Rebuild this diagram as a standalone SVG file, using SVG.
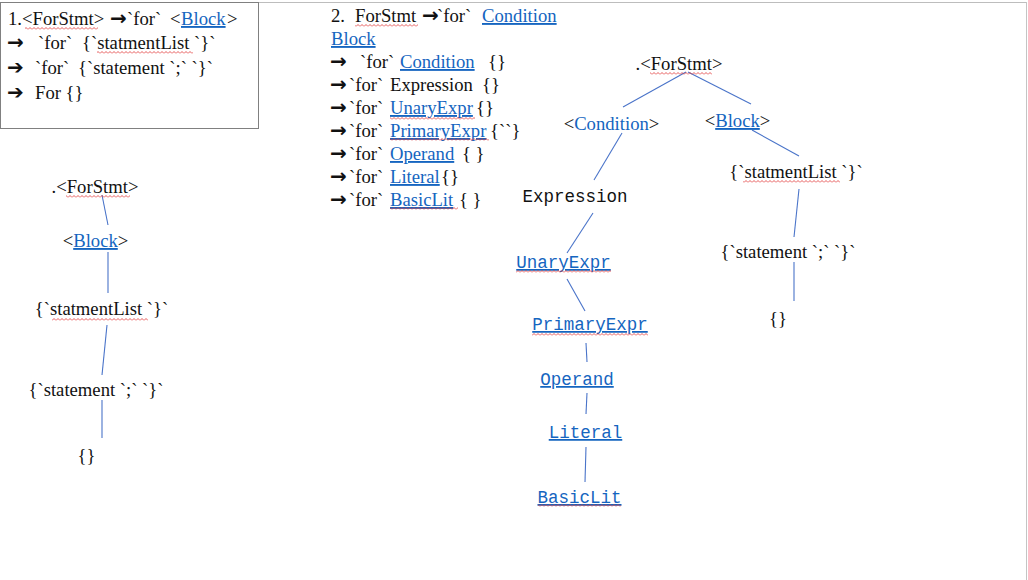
<svg xmlns="http://www.w3.org/2000/svg" width="1028" height="580" viewBox="0 0 1028 580">
<defs>
<style>
.t{font-family:"Liberation Serif","Times New Roman",serif;font-size:18.67px;fill:#111}
.m{font-family:"Liberation Mono","DejaVu Sans Mono",monospace;font-size:17.5px;fill:#111}
.b{fill:#1565c0}
.u{text-decoration:underline}
.c{text-anchor:middle}
.ar{font-family:"DejaVu Sans",sans-serif;font-size:20px;font-weight:bold;fill:#111}
.ln{stroke:#4a74c9;stroke-width:1.1;fill:none}
.wv{fill:url(#wave)}
</style>
<pattern id="wave" patternUnits="userSpaceOnUse" width="4" height="3">
<path d="M0,2.5 L2,0.5 L4,2.5" fill="none" stroke="#e03030" stroke-width="0.8"/>
</pattern>
</defs>
<rect x="0" y="0" width="1028" height="580" fill="#fff"/>
<g id="page-border">
<line x1="258" y1="2.5" x2="1027" y2="2.5" stroke="#bdbdbd" stroke-width="1"/>
<line x1="1026.5" y1="2" x2="1026.5" y2="580" stroke="#c4c4c4" stroke-width="1"/>
</g>

<g id="box1">
<rect x="0.5" y="2.5" width="258" height="126" fill="none" stroke="#808080" stroke-width="1"/>
<text class="t" x="8" y="25">1.&lt;ForStmt&gt;</text>
<text class="ar" x="110" y="25">→</text>
<text class="t" x="127" y="25">`for`</text>
<text class="t" x="170" y="25">&lt;<tspan class="b u" x="181">Block</tspan><tspan x="227">&gt;</tspan></text>
<text class="ar" x="7" y="49">→</text>
<text class="t" x="38" y="49">`for`</text>
<text class="t" x="82" y="49">{`statmentList `}`</text>
<text class="ar" x="7" y="74">➔</text>
<text class="t" x="35" y="74">`for`</text>
<text class="t" x="78" y="74">{`statement `;` `}`</text>
<text class="ar" x="7" y="99">➔</text>
<text class="t" x="35" y="99">For {}</text>
<rect class="wv" x="25" y="27" width="73" height="3"/>
<rect class="wv" x="97" y="51" width="96" height="3"/>
</g>

<g id="derivation2">
<text class="t" x="331" y="22">2.</text>
<text class="t" x="355" y="22">ForStmt</text>
<text class="ar" x="422" y="22">→</text>
<text class="t" x="437" y="22">`for`</text>
<text class="t b u" x="482" y="22">Condition</text>
<text class="t b u" x="331" y="45">Block</text>
<text class="ar" x="330" y="68">→</text>
<text class="t" x="360" y="68">`for`</text>
<text class="t b u" x="400" y="68">Condition</text>
<text class="t" x="488" y="68">{}</text>
<text class="ar" x="330" y="91">→</text>
<text class="t" x="349" y="91">`for`</text>
<text class="t" x="390" y="91">Expression</text>
<text class="t" x="482" y="91">{}</text>
<text class="ar" x="330" y="114">→</text>
<text class="t" x="349" y="114">`for`</text>
<text class="t b u" x="390" y="114">UnaryExpr</text>
<text class="t" x="476" y="114">{}</text>
<text class="ar" x="330" y="137">→</text>
<text class="t" x="349" y="137">`for`</text>
<text class="t b u" x="390" y="137">PrimaryExpr</text>
<text class="t" x="490" y="137">{``}</text>
<text class="ar" x="330" y="160">→</text>
<text class="t" x="349" y="160">`for`</text>
<text class="t b u" x="390" y="160">Operand</text>
<text class="t" x="462" y="160">{ }</text>
<text class="ar" x="330" y="183">→</text>
<text class="t" x="349" y="183">`for`</text>
<text class="t b u" x="390" y="183">Literal</text>
<text class="t" x="441" y="183">{}</text>
<text class="ar" x="330" y="206">→</text>
<text class="t" x="349" y="206">`for`</text>
<text class="t b u" x="390" y="206">BasicLit</text>
<text class="t" x="459" y="206">{ }</text>
<rect class="wv" x="355" y="24" width="63" height="3"/>
<rect class="wv" x="390" y="117" width="85" height="3"/>
<rect class="wv" x="390" y="138" width="99" height="3"/>
<rect class="wv" x="390" y="207" width="68" height="3"/>
</g>

<g id="connectors">
<line class="ln" x1="102" y1="195" x2="108" y2="225"/>
<line class="ln" x1="108" y1="252" x2="108" y2="293"/>
<line class="ln" x1="107" y1="325" x2="102" y2="375"/>
<line class="ln" x1="102" y1="400" x2="102" y2="438"/>
<line class="ln" x1="686" y1="72" x2="623" y2="107"/>
<line class="ln" x1="688" y1="72" x2="751" y2="104"/>
<line class="ln" x1="622" y1="133" x2="594" y2="180"/>
<line class="ln" x1="752" y1="130" x2="799" y2="156"/>
<line class="ln" x1="593" y1="213" x2="567" y2="253"/>
<line class="ln" x1="567" y1="279" x2="585" y2="311"/>
<line class="ln" x1="586" y1="343" x2="587" y2="362"/>
<line class="ln" x1="587" y1="393" x2="586" y2="414"/>
<line class="ln" x1="586" y1="447" x2="585" y2="482"/>
<line class="ln" x1="799" y1="189" x2="794" y2="237"/>
<line class="ln" x1="794" y1="262" x2="794" y2="301"/>
</g>

<g id="left-forstmt"><text class="t c" x="95" y="193">.&lt;ForStmt&gt;</text><rect class="wv" x="66" y="195" width="64" height="3"/></g>
<g id="left-block"><text class="t c" x="95.5" y="247">&lt;<tspan class="b u">Block</tspan>&gt;</text></g>
<g id="left-statmentlist"><text class="t c" x="101.5" y="315">{`statmentList `}`</text><rect class="wv" x="52" y="318" width="96" height="3"/></g>
<g id="left-statement"><text class="t c" x="96" y="396">{`statement `;` `}`</text></g>
<g id="left-empty"><text class="t c" x="86.5" y="462">{}</text></g>

<g id="r-forstmt"><text class="t c" x="679" y="70">.&lt;ForStmt&gt;</text><rect class="wv" x="650" y="72" width="62" height="3"/></g>
<g id="r-condition"><text class="t c" x="611.5" y="130">&lt;<tspan class="b">Condition</tspan>&gt;</text></g>
<g id="r-block"><text class="t c" x="737.5" y="127">&lt;<tspan class="b u">Block</tspan>&gt;</text></g>
<g id="r-statmentlist"><text class="t c" x="796" y="178">{`statmentList `}`</text><rect class="wv" x="743" y="180" width="97" height="3"/></g>
<g id="r-statement"><text class="t c" x="788" y="258">{`statement `;` `}`</text></g>
<g id="r-empty"><text class="t c" x="778" y="325">{}</text></g>
<g id="r-expression"><text class="m c" x="575" y="202">Expression</text></g>
<g id="r-unaryexpr"><text class="m c b u" x="563.5" y="268">UnaryExpr</text><rect class="wv" x="516" y="270" width="95" height="3"/></g>
<g id="r-primaryexpr"><text class="m c b u" x="590" y="330">PrimaryExpr</text><rect class="wv" x="532" y="333" width="116" height="3"/></g>
<g id="r-operand"><text class="m c b u" x="577" y="385">Operand</text></g>
<g id="r-literal"><text class="m c b u" x="585.5" y="438">Literal</text></g>
<g id="r-basiclit"><text class="m c b u" x="579.5" y="503">BasicLit</text><rect class="wv" x="538" y="504" width="83" height="3"/></g>
</svg>
